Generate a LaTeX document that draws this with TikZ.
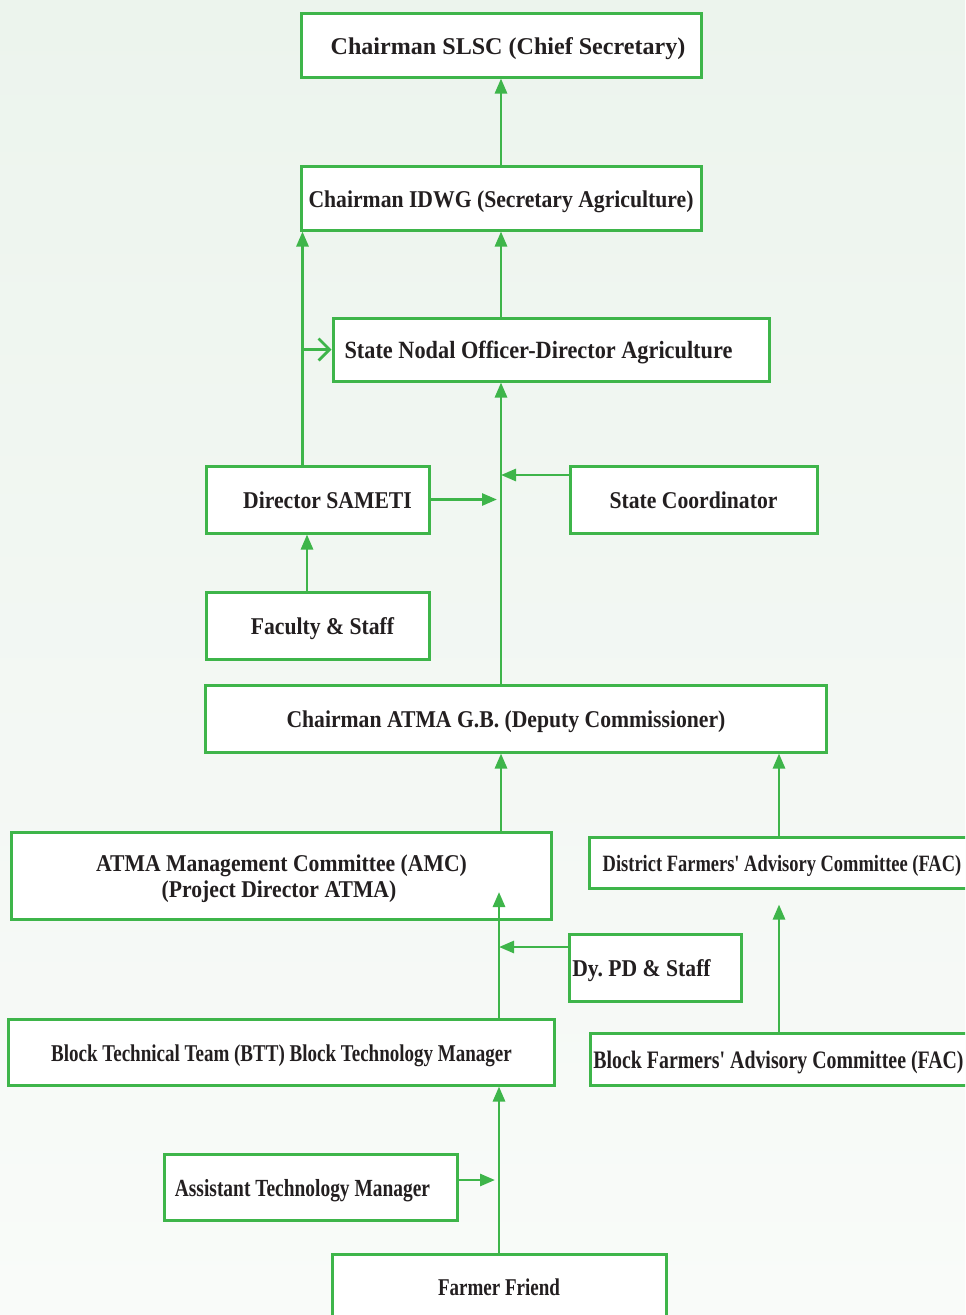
\documentclass[tikz,border=0pt]{standalone}
\usepackage{fontspec}
\setmainfont{Liberation Serif}
\newfontfamily\midfont[FakeStretch=0.9]{Liberation Serif}
\newfontfamily\narrowfont[FakeStretch=0.79]{Liberation Serif}
\usetikzlibrary{positioning, arrows.meta}
\definecolor{agreen}{RGB}{62,181,74}
\definecolor{inktext}{RGB}{35,31,32}
\definecolor{bgtop}{RGB}{236,244,237}
\definecolor{bgbottom}{RGB}{249,251,249}

\begin{document}
\begin{tikzpicture}
    [
        x=0.2mm, y=-0.2mm,
        green_box/.style={rectangle, draw=agreen, line width=0.6mm, fill=white, text=inktext, inner sep=0mm, text height=3.6mm, text depth=0mm, font=\fontsize{13.7}{14.8}\selectfont\bfseries},
        mid_box/.style={green_box, font=\fontsize{13.7}{14.8}\selectfont\midfont\bfseries},
        narrow_box/.style={green_box, font=\fontsize{13.7}{14.8}\selectfont\narrowfont\bfseries},
        flow/.style={-{Triangle[length=3mm, width=2.4mm]}, line width=0.55mm, draw=agreen},
        open_flow/.style={-{Straight Barb[length=2.2mm, width=4.4mm]}, line width=0.55mm, draw=agreen},
    ]
        \useasboundingbox (0,0) rectangle (965,1315) ;
        \clip (0,0) rectangle (965,1315) ;
        \shade[top color=bgtop, bottom color=bgbottom] (0,0) rectangle (965,1315) ;
        \node[green_box, minimum width=80mm, minimum height=12.6mm] (slsc) at (501,45.5) {\hspace*{2.8mm}Chairman SLSC (Chief Secretary)} ;
        \node[mid_box, minimum width=80mm, minimum height=12.8mm] (idwg) at (501,198) {Chairman IDWG (Secretary Agriculture)} ;
        \node[mid_box, minimum width=87.2mm, minimum height=12.6mm, font=\fontsize{14.1}{14.8}\selectfont\midfont\bfseries] (nodal) at (551,349.5) {State Nodal Officer-Director Agriculture\hspace*{5mm}} ;
        \node[mid_box, minimum width=44.6mm, minimum height=13.4mm] (sameti) at (317.5,499.5) {\hspace*{4mm}Director SAMETI} ;
        \node[mid_box, minimum width=49.4mm, minimum height=13.4mm] (coord) at (693.5,499.5) {State Coordinator} ;
        \node[mid_box, minimum width=44.6mm, minimum height=13.4mm] (faculty) at (317.5,625.5) {\hspace*{2mm}Faculty \& Staff} ;
        \node[mid_box, minimum width=124mm, minimum height=13.4mm] (atmagb) at (516,718.5) {Chairman ATMA G.B. (Deputy Commissioner)\hspace*{4mm}} ;
        \node[mid_box, minimum width=107.8mm, minimum height=17.4mm, text height=8.8mm, align=center] (amc) at (281.5,875.5) {ATMA Management Committee (AMC)\\(Project Director ATMA)\hspace*{1mm}} ;
        \node[narrow_box, minimum width=77.2mm, minimum height=10.2mm, font=\fontsize{13.3}{14.8}\selectfont\narrowfont\bfseries] (dfac) at (782,862.5) {District Farmers' Advisory Committee (FAC)} ;
        \node[mid_box, minimum width=34.4mm, minimum height=13.4mm] (dypd) at (655,967.5) {Dy.\ PD \& Staff\hspace*{5.4mm}} ;
        \node[narrow_box, minimum width=109mm, minimum height=13.2mm] (btt) at (281.5,1052) {Block Technical Team (BTT) Block Technology Manager} ;
        \node[narrow_box, minimum width=77mm, minimum height=10.4mm, font=\fontsize{14.3}{14.8}\selectfont\narrowfont\bfseries] (bfac) at (782.5,1059) {Block Farmers' Advisory Committee (FAC)\hspace*{1.6mm}} ;
        \node[narrow_box, minimum width=58.4mm, minimum height=13.2mm, font=\fontsize{14}{14.8}\selectfont\narrowfont\bfseries] (atm) at (311,1187) {Assistant Technology Manager\hspace*{3.4mm}} ;
        \node[narrow_box, minimum width=66.8mm, minimum height=12.8mm] (farmer) at (499,1286) {Farmer Friend} ;
        \coordinate (spine) at (idwg.south) ;
        \coordinate (spinegap) at ([xshift=-0.8mm]idwg.south) ;
        \coordinate (leftline) at ([xshift=0.6mm]idwg.south west) ;
        \coordinate (coordin) at ([yshift=4.9mm]coord.west) ;
        \coordinate (amcin) at ([yshift=-3.3mm]amc.center) ;
        \coordinate (dypdout) at ([yshift=4.1mm]dypd.west) ;
        \coordinate (dfacbelow) at ([yshift=-3mm]dfac.south) ;
        \coordinate (atmout) at ([yshift=1.4mm]atm.east) ;
        \coordinate (lowgap) at ([xshift=-0.8mm]farmer.north) ;
        \draw[flow] (idwg.north) -- (slsc.south) ;
        \draw[flow] (spine |- nodal.north) -- (idwg.south) ;
        \draw[flow] (leftline |- sameti.north) -- (leftline) ;
        \draw[open_flow] (leftline |- nodal.west) -- (nodal.west) ;
        \draw[flow] (spine |- atmagb.north) -- (spine |- nodal.south) ;
        \draw[flow] (sameti.east) -- (spinegap |- sameti.east) ;
        \draw[flow] (coordin) -- (spine |- coordin) ;
        \draw[flow] ([xshift=-2.1mm]faculty.north) -- ([xshift=-2.1mm]sameti.south) ;
        \draw[flow] (spine |- amc.north) -- (spine |- atmagb.south) ;
        \draw[flow] ([xshift=-0.6mm]dfac.north) -- ([xshift=-0.6mm]dfac.north |- atmagb.south) ;
        \draw[flow] (farmer.north |- btt.north) -- (farmer.north |- amcin) ;
        \draw[flow] (dypdout) -- (farmer.north |- dypdout) ;
        \draw[flow] ([xshift=-0.7mm]bfac.north) -- ([xshift=-0.7mm]bfac.north |- dfacbelow) ;
        \draw[flow] (farmer.north) -- (farmer.north |- btt.south) ;
        \draw[flow] (atmout) -- (lowgap |- atmout) ;
\end{tikzpicture}
\end{document}
